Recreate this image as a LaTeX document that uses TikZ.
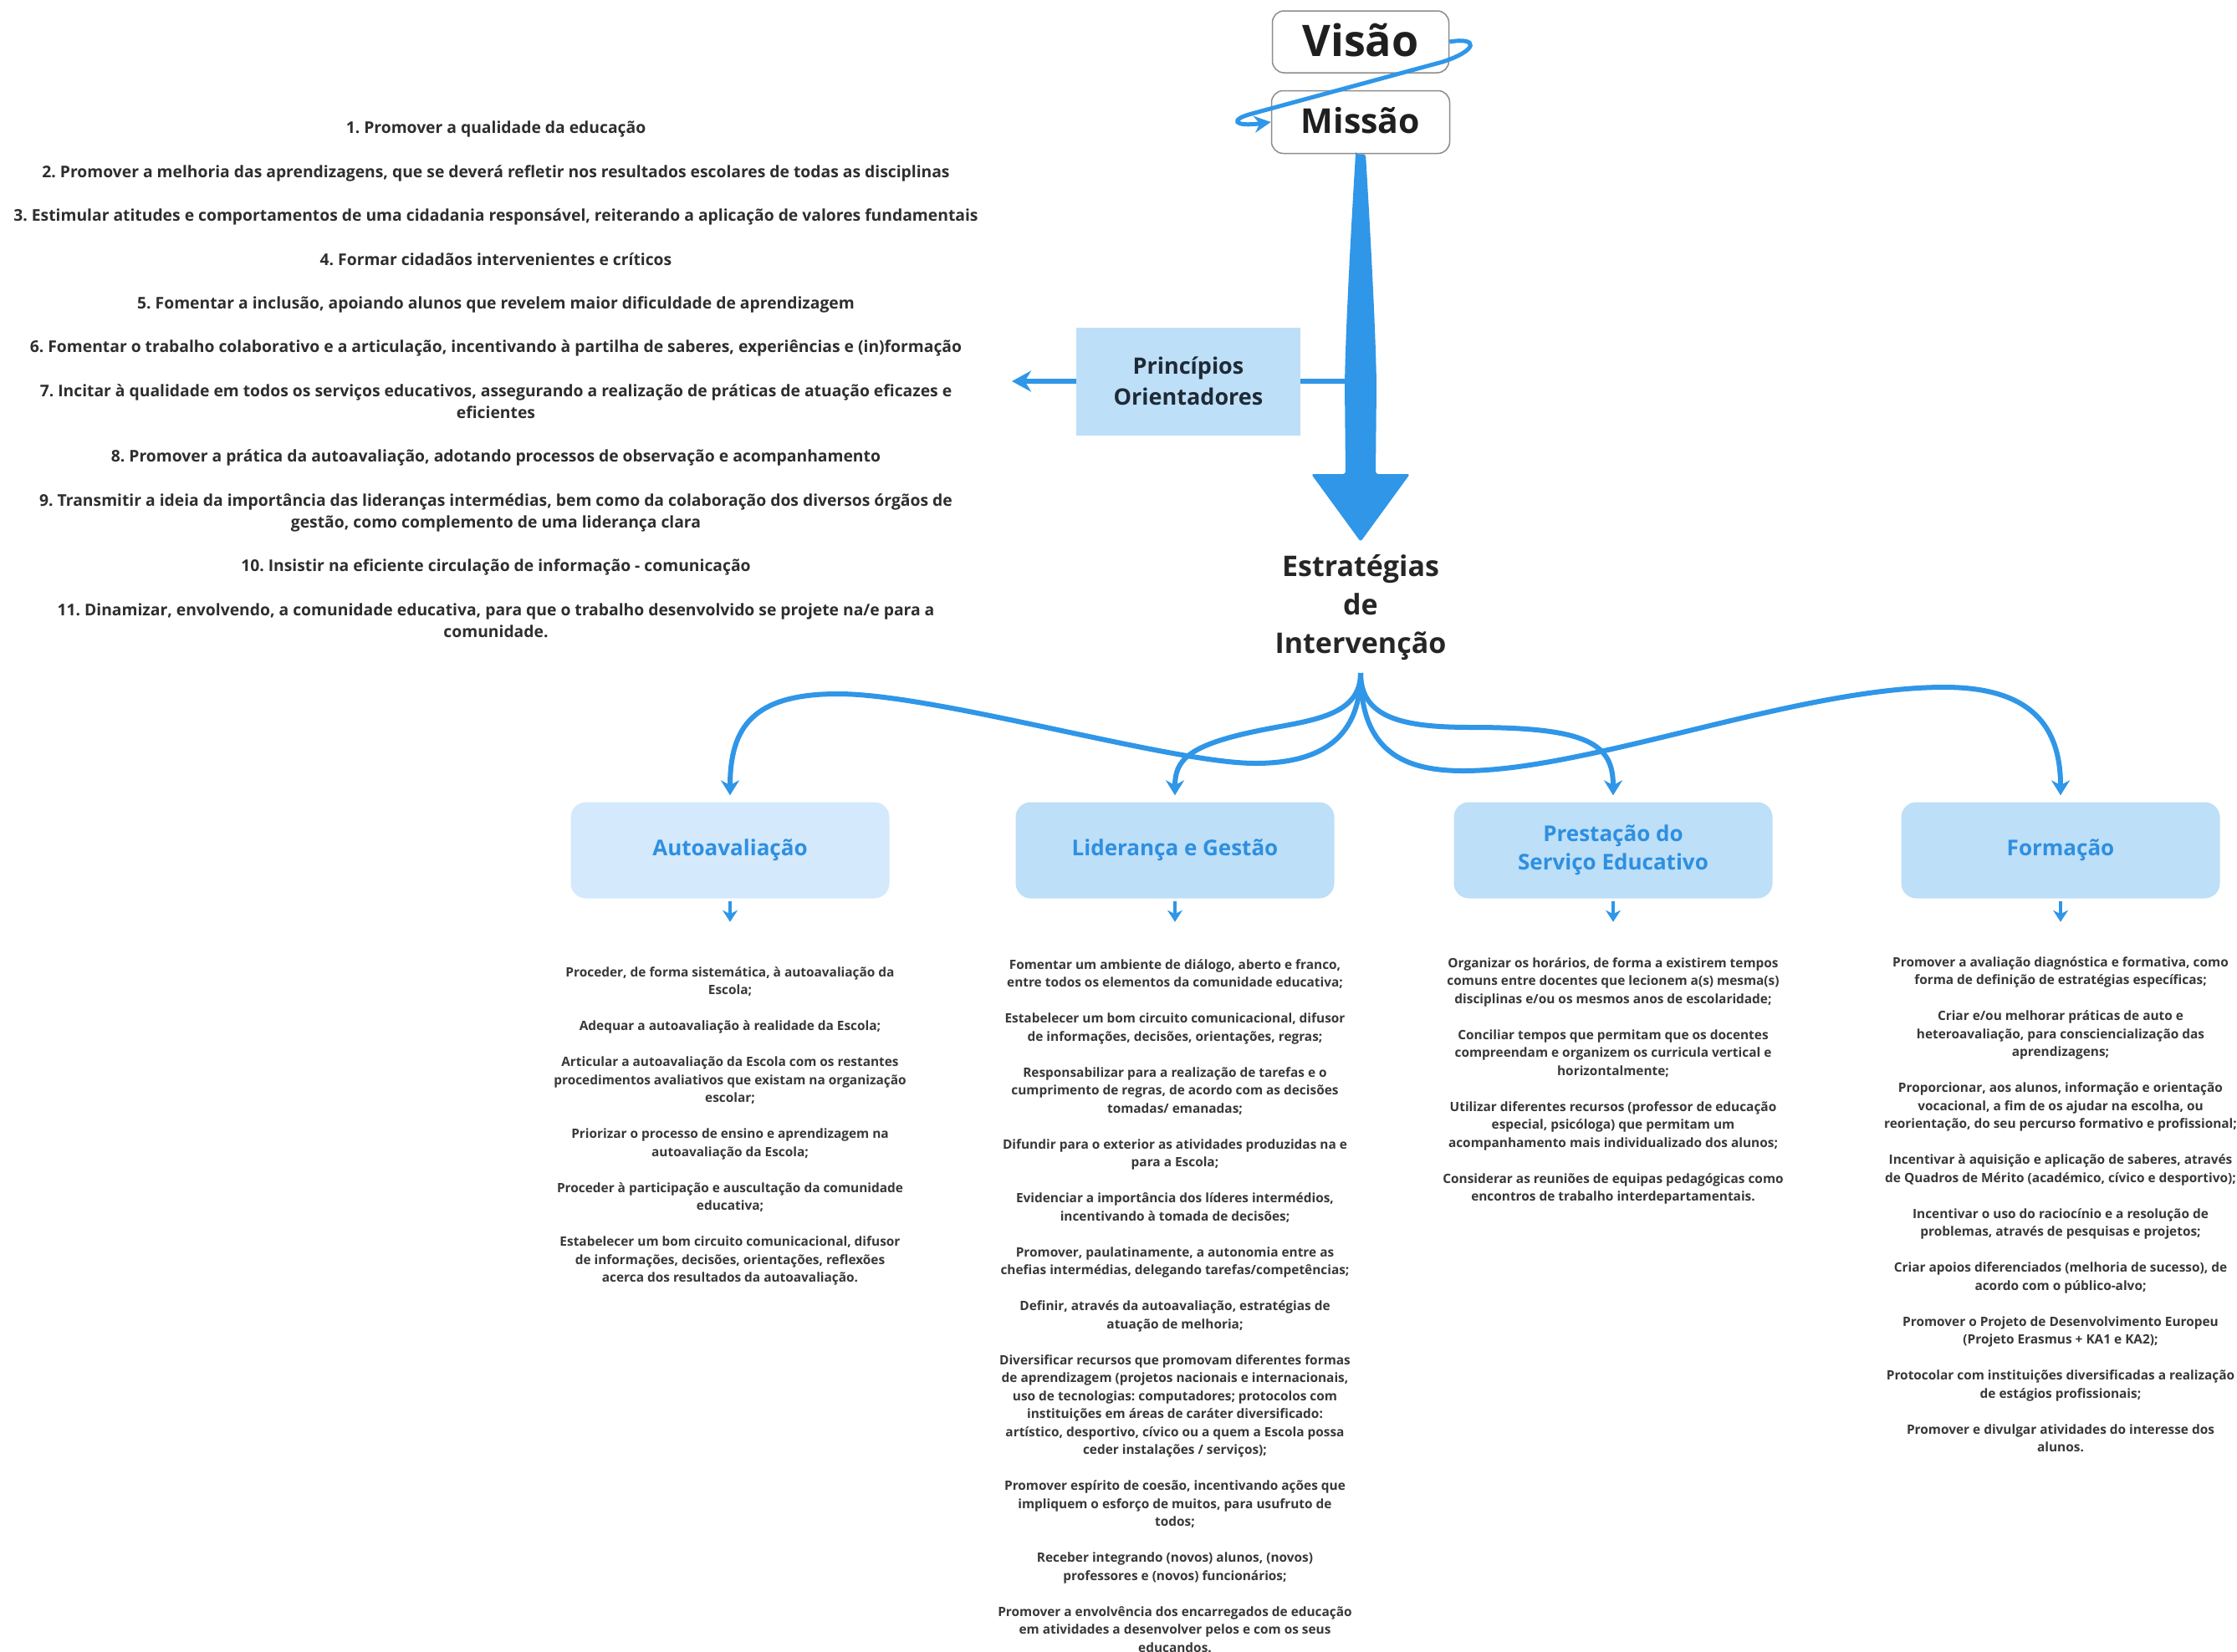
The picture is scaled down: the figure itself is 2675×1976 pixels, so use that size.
\documentclass[tikz,border=0pt]{standalone}
\usepackage{fontspec}
\setmainfont{Open Sans}
\usetikzlibrary{arrows.meta,calc}
\definecolor{arrowblue}{HTML}{2F96E8}
\definecolor{boxblue}{HTML}{BDDFF8}
\definecolor{boxlight}{HTML}{D4E9FB}
\definecolor{cattext}{HTML}{2E8FE0}
\definecolor{itemtext}{HTML}{383838}
\definecolor{listtext}{HTML}{2E2E2E}
\definecolor{darktext}{HTML}{1F2A36}
\frenchspacing
\begin{document}
\begin{tikzpicture}[x=1pt,y=-1pt,
  catbox/.style={rounded corners=18pt, fill=boxblue, minimum width=381pt, minimum height=115pt, inner sep=0pt, align=center, text=cattext, font=\fontsize{26}{34}\selectfont\bfseries},
  items/.style={align=center, inner sep=0pt, anchor=north, text=itemtext, font=\fontsize{15.4}{21.5}\selectfont\bfseries},
  topbox/.style={draw=black!45, line width=1.5pt, fill=white, rounded corners=14pt, inner sep=0pt, text=black!88},
  conn/.style={draw=arrowblue, line width=6pt, -{Stealth[length=18pt,width=22pt]}, shorten >=8pt},
  stub/.style={draw=arrowblue, line width=4pt, -{Stealth[length=14pt,width=18pt]}, shorten <=3pt}
]
\useasboundingbox (0,0) rectangle (2675,1976);
\fill[white] (0,0) rectangle (2675,1976);

% top boxes
\node[topbox, minimum width=211pt, minimum height=74pt, font=\fontsize{52}{60}\selectfont\bfseries] (visao) at (1627,50) {\raisebox{5pt}{Visão}};
\node[topbox, minimum width=213pt, minimum height=75pt, font=\fontsize{41}{50}\selectfont\bfseries] (missao) at (1627,146) {\raisebox{4pt}{Missão}};

\draw[line width=5pt, arrowblue, -{Stealth[length=20pt,width=20pt]}]
  (visao.east) .. controls (1768,44) and (1768,60) .. (1725,74) -- (1497,136)
  .. controls (1470,143) and (1475,152) .. (missao.west);

% principles
\node[fill=boxblue, minimum width=268pt, minimum height=129pt, inner sep=0pt, align=center, text=darktext, font=\fontsize{27}{37}\selectfont\bfseries] (prin) at (1421,456) {Princípios\\Orientadores};

\coordinate (shaft) at (1627,456);
\coordinate (listend) at (1210,456);
\draw[arrowblue, line width=6pt] (shaft) -- (prin.east);
\draw[arrowblue, line width=6pt, -{Stealth[length=23pt,width=25pt]}] (prin.west) -- (listend);

% strategies
\node[align=center, inner sep=0pt, text=black!85, font=\fontsize{34}{46}\selectfont\bfseries] (estr) at (1627,727) {Estratégias\\de\\Intervenção};

% big arrow Missao -> Estrategias
\coordinate (bigtip) at (1627,648);
\fill[arrowblue, rounded corners=3pt]
  ($(missao.south)+(-6,0)$) -- ($(missao.south)+(6,0)$)
  .. controls (1640,300) and (1645,400) .. (1646,460) -- (1645,567) -- (1686,567) -- (bigtip)
  -- (1568,567) -- (1609,567) -- (1608,460) .. controls (1609,400) and (1614,300) .. cycle;

% list of principles
\node[align=center, inner sep=0pt, anchor=north, text=listtext, font=\fontsize{19.3}{26.2}\selectfont\bfseries] (lista) at (593,145) {%
1. Promover a qualidade da educação\\[26.2pt]
2. Promover a melhoria das aprendizagens, que se deverá refletir nos resultados escolares de todas as disciplinas\\[26.2pt]
3. Estimular atitudes e comportamentos de uma cidadania responsável, reiterando a aplicação de valores fundamentais\\[26.2pt]
4. Formar cidadãos intervenientes e críticos\\[26.2pt]
5. Fomentar a inclusão, apoiando alunos que revelem maior dificuldade de aprendizagem\\[26.2pt]
6. Fomentar o trabalho colaborativo e a articulação, incentivando à partilha de saberes, experiências e (in)formação\\[26.2pt]
7. Incitar à qualidade em todos os serviços educativos, assegurando a realização de práticas de atuação eficazes e\\
eficientes\\[26.2pt]
8. Promover a prática da autoavaliação, adotando processos de observação e acompanhamento\\[26.2pt]
9. Transmitir a ideia da importância das lideranças intermédias, bem como da colaboração dos diversos órgãos de\\
gestão, como complemento de uma liderança clara\\[26.2pt]
10. Insistir na eficiente circulação de informação - comunicação\\[26.2pt]
11. Dinamizar, envolvendo, a comunidade educativa, para que o trabalho desenvolvido se projete na/e para a\\
comunidade.};

% category boxes
\node[catbox, fill=boxlight] (auto) at (873,1017) {Autoavaliação};
\node[catbox] (lid) at (1405,1017) {Liderança e Gestão};
\node[catbox] (pres) at (1929,1017) {Prestação do\\Serviço Educativo};
\node[catbox] (form) at (2464,1017) {Formação};

% curved connectors
\coordinate (junc) at (1627,805);
\draw[conn] (junc) .. controls (1627,890) and (1570,913) .. (1501,913)
  .. controls (1400,913) and (1120,830) .. (1002,830)
  .. controls (900,830) and (873,870) .. (auto.north);
\draw[conn] (junc) .. controls (1627,860) and (1560,862) .. (1500,875)
  .. controls (1420,892) and (1405,910) .. (lid.north);
\draw[conn] (junc) .. controls (1627,860) and (1680,870) .. (1760,870)
  .. controls (1900,870) and (1929,890) .. (pres.north);
\draw[conn] (junc) .. controls (1627,900) and (1680,922) .. (1750,922)
  .. controls (1900,922) and (2150,822) .. (2325,822)
  .. controls (2440,822) and (2464,880) .. (form.north);

% stubs
\draw[stub] (auto.south) -- ($(auto.south)+(0,28)$);
\draw[stub] (lid.south) -- ($(lid.south)+(0,28)$);
\draw[stub] (pres.south) -- ($(pres.south)+(0,28)$);
\draw[stub] (form.south) -- ($(form.south)+(0,28)$);

% item texts
\node[items] (autotxt) at (873,1156) {%
Proceder, de forma sistemática, à autoavaliação da\\Escola;\\[21.5pt]
Adequar a autoavaliação à realidade da Escola;\\[21.5pt]
Articular a autoavaliação da Escola com os restantes\\procedimentos avaliativos que existam na organização\\escolar;\\[21.5pt]
Priorizar o processo de ensino e aprendizagem na\\autoavaliação da Escola;\\[21.5pt]
Proceder à participação e auscultação da comunidade\\educativa;\\[21.5pt]
Estabelecer um bom circuito comunicacional, difusor\\de informações, decisões, orientações, reflexões\\acerca dos resultados da autoavaliação.};

\node[items] (lidtxt) at (1405,1147) {%
Fomentar um ambiente de diálogo, aberto e franco,\\entre todos os elementos da comunidade educativa;\\[21.5pt]
Estabelecer um bom circuito comunicacional, difusor\\de informações, decisões, orientações, regras;\\[21.5pt]
Responsabilizar para a realização de tarefas e o\\cumprimento de regras, de acordo com as decisões\\tomadas/ emanadas;\\[21.5pt]
Difundir para o exterior as atividades produzidas na e\\para a Escola;\\[21.5pt]
Evidenciar a importância dos líderes intermédios,\\incentivando à tomada de decisões;\\[21.5pt]
Promover, paulatinamente, a autonomia entre as\\chefias intermédias, delegando tarefas/competências;\\[21.5pt]
Definir, através da autoavaliação, estratégias de\\atuação de melhoria;\\[21.5pt]
Diversificar recursos que promovam diferentes formas\\de aprendizagem (projetos nacionais e internacionais,\\uso de tecnologias: computadores; protocolos com\\instituições em áreas de caráter diversificado:\\artístico, desportivo, cívico ou a quem a Escola possa\\ceder instalações / serviços);\\[21.5pt]
Promover espírito de coesão, incentivando ações que\\impliquem o esforço de muitos, para usufruto de\\todos;\\[21.5pt]
Receber integrando (novos) alunos, (novos)\\professores e (novos) funcionários;\\[21.5pt]
Promover a envolvência dos encarregados de educação\\em atividades a desenvolver pelos e com os seus\\educandos.};

\node[items] (prestxt) at (1929,1145) {%
Organizar os horários, de forma a existirem tempos\\comuns entre docentes que lecionem a(s) mesma(s)\\disciplinas e/ou os mesmos anos de escolaridade;\\[21.5pt]
Conciliar tempos que permitam que os docentes\\compreendam e organizem os curricula vertical e\\horizontalmente;\\[21.5pt]
Utilizar diferentes recursos (professor de educação\\especial, psicóloga) que permitam um\\acompanhamento mais individualizado dos alunos;\\[21.5pt]
Considerar as reuniões de equipas pedagógicas como\\encontros de trabalho interdepartamentais.};

\node[items] (formtxt) at (2464,1144) {%
Promover a avaliação diagnóstica e formativa, como\\forma de definição de estratégias específicas;\\[21.5pt]
Criar e/ou melhorar práticas de auto e\\heteroavaliação, para consciencialização das\\aprendizagens;\\[21.5pt]
Proporcionar, aos alunos, informação e orientação\\vocacional, a fim de os ajudar na escolha, ou\\reorientação, do seu percurso formativo e profissional;\\[21.5pt]
Incentivar à aquisição e aplicação de saberes, através\\de Quadros de Mérito (académico, cívico e desportivo);\\[21.5pt]
Incentivar o uso do raciocínio e a resolução de\\problemas, através de pesquisas e projetos;\\[21.5pt]
Criar apoios diferenciados (melhoria de sucesso), de\\acordo com o público-alvo;\\[21.5pt]
Promover o Projeto de Desenvolvimento Europeu\\(Projeto Erasmus + KA1 e KA2);\\[21.5pt]
Protocolar com instituições diversificadas a realização\\de estágios profissionais;\\[21.5pt]
Promover e divulgar atividades do interesse dos\\alunos.};
\end{tikzpicture}
\end{document}
